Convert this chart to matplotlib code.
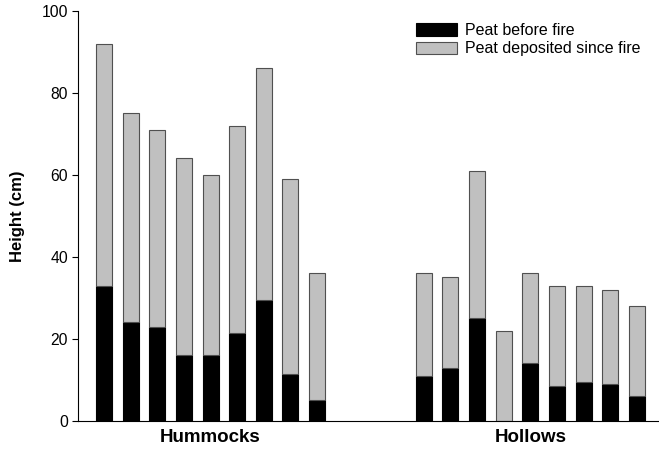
import numpy as np
import matplotlib.pyplot as plt

plt.rcParams['font.family'] = ['Liberation Sans', 'DejaVu Sans']

groups = ["Hummocks", "Hollows"]
hummock_before = [33, 24, 23, 16, 16, 21.5, 29.5, 11.5, 5]
hummock_total = [92, 75, 71, 64, 60, 72, 86, 59, 36]
hollow_before = [11, 13, 25, 0, 14, 8.5, 9.5, 9, 6]
hollow_total = [36, 35, 61, 22, 36, 33, 33, 32, 28]

before = np.array(hummock_before + hollow_before)
total = np.array(hummock_total + hollow_total)
since = total - before
pos = np.concatenate([np.arange(9), np.arange(12, 21)])

fig = plt.figure(figsize=(6.59, 4.54), dpi=100)
ax = fig.add_axes([0.118, 0.073, 0.885, 0.903])

w = 0.6
ax.bar(pos, before, w, color='black', edgecolor='black', linewidth=0.8,
       label='Peat before fire')
ax.bar(pos, since, w, bottom=before, color='#c0c0c0', edgecolor='#505050',
       linewidth=0.8, label='Peat deposited since fire')

ax.set_xlim(-0.98, 20.9)
ax.set_ylim(0, 100)
ax.set_yticks(np.arange(0, 101, 20))
ax.set_xticks([4, 16])
ax.set_xticklabels(groups, fontsize=13.5, fontweight='bold')
ax.tick_params(axis='x', length=0, pad=6)
ax.tick_params(axis='y', labelsize=11.3, direction='out', length=4, pad=3)
ax.set_ylabel('Height (cm)', fontsize=12, fontweight='bold', labelpad=12)

for s in ['top', 'right']:
    ax.spines[s].set_visible(False)

ax.legend(loc='upper left', bbox_to_anchor=(0.555, 1.005), frameon=False,
          fontsize=11.5, handlelength=2.6, handleheight=0.85, labelspacing=0.2,
          handletextpad=0.5)

fig.savefig('out.png', dpi=100)
